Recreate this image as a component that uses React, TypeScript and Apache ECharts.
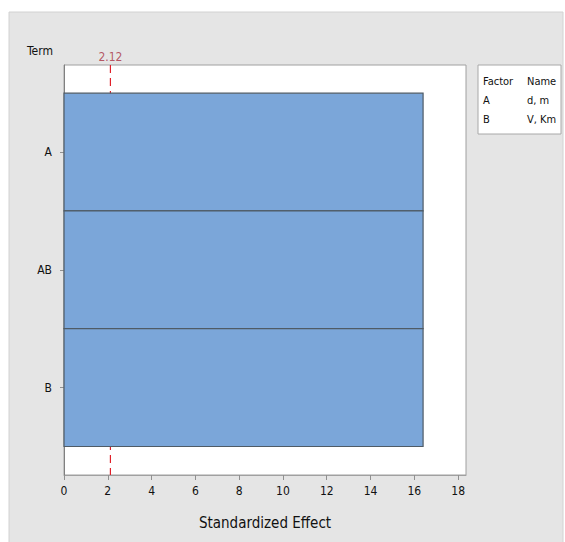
import React, { useEffect, useRef } from "react";
import * as echarts from "echarts";

const terms = ["A", "AB", "B"];
const effects = [16.4, 16.4, 16.4];
const refLine = 2.12;
const xTicks = [0, 2, 4, 6, 8, 10, 12, 14, 16, 18];
const factorRows = [
  ["A", "d, m"],
  ["B", "V, Km"],
];

const FONT = "'Liberation Sans Narrow', 'DejaVu Sans Condensed', sans-serif";

export default function App() {
  const ref = useRef<HTMLDivElement>(null);
  useEffect(() => {
    if (!ref.current) return;
    const chart = echarts.init(ref.current, undefined, { renderer: "svg" });
    const barData = effects.map((v, i) => [v, i + 1]);
    const legendTexts: any[] = [
      { type: "text", x: 483, y: 76, style: { text: "Factor", font: `11px ${FONT}`, fill: "#111" } },
      { type: "text", x: 527, y: 76, style: { text: "Name", font: `11px ${FONT}`, fill: "#111" } },
    ];
    factorRows.forEach((r, i) => {
      legendTexts.push({ type: "text", x: 483, y: 95 + i * 19, style: { text: r[0], font: `11px ${FONT}`, fill: "#111" } });
      legendTexts.push({ type: "text", x: 527, y: 95 + i * 19, style: { text: r[1], font: `11px ${FONT}`, fill: "#111" } });
    });
    chart.setOption({
      animation: false,
      backgroundColor: "#ffffff",
      textStyle: { fontFamily: FONT },
      graphic: [
        {
          type: "rect",
          z: -10,
          shape: { x: 9, y: 12, width: 554, height: 540 },
          style: { fill: "#e5e5e5", stroke: "#d2d2d2", lineWidth: 1 },
        },
        {
          type: "text",
          x: 27,
          y: 45,
          style: { text: "Term", font: `12px ${FONT}`, fill: "#111" },
        },
        {
          type: "rect",
          shape: { x: 478, y: 65, width: 83, height: 69 },
          style: { fill: "#ffffff", stroke: "#a8a8a8", lineWidth: 1 },
        },
        ...legendTexts,
      ],
      grid: {
        left: 64,
        top: 65,
        width: 402,
        height: 410,
        show: true,
        backgroundColor: "#ffffff",
        borderColor: "#a0a0a0",
        borderWidth: 1,
      },
      xAxis: {
        type: "value",
        min: 0,
        max: 18.36,
        interval: 2,
        splitLine: { show: false },
        axisLine: { show: true, lineStyle: { color: "#a0a0a0" } },
        axisTick: { show: true, length: 5, lineStyle: { color: "#909090" }, customValues: xTicks },
        axisLabel: { color: "#111", fontSize: 12, margin: 10, customValues: xTicks, formatter: (v: number) => String(v) },
        name: "Standardized Effect",
        nameLocation: "middle",
        nameGap: 40,
        nameTextStyle: { fontSize: 15, color: "#111", fontFamily: FONT },
      },
      yAxis: {
        type: "value",
        inverse: true,
        min: 0.261,
        max: 3.742,
        splitLine: { show: false },
        axisLine: { show: true, lineStyle: { color: "#808080" } },
        axisTick: { show: true, length: 4, lineStyle: { color: "#909090" }, customValues: [1, 2, 3] },
        axisLabel: {
          color: "#111",
          fontSize: 12,
          margin: 12,
          customValues: [1, 2, 3],
          formatter: (v: number) => terms[Math.round(v) - 1] ?? "",
        },
      },
      series: [
        {
          type: "line",
          data: [
            [refLine, 0.261],
            [refLine, 3.742],
          ],
          symbol: "none",
          lineStyle: { color: "#e0202a", type: [8, 5], width: 1.2 },
          z: 1,
          label: { show: false },
        },
        {
          type: "custom",
          data: barData,
          encode: { x: 0, y: 1 },
          renderItem: (params: any, api: any) => {
            const v = api.value(0);
            const c = api.value(1);
            const p0 = api.coord([0, c - 0.5]);
            const p1 = api.coord([v, c + 0.5]);
            return {
              type: "rect",
              shape: { x: p0[0], y: p0[1], width: p1[0] - p0[0], height: p1[1] - p0[1] },
              style: { fill: "#7ba6d9", stroke: "#4f5b66", lineWidth: 1.2 },
            };
          },
          z: 2,
        },
        {
          type: "scatter",
          data: [[refLine, 0.261]],
          symbolSize: 0,
          label: {
            show: true,
            position: "top",
            distance: 2,
            formatter: String(refLine),
            color: "#a83040",
            fontSize: 12,
            fontFamily: FONT,
          },
          z: 4,
        },
      ],
    });
    return () => chart.dispose();
  }, []);
  return (
    <div
      ref={ref}
      style={{ position: "fixed", left: 0, top: 0, width: 565, height: 542 }}
    />
  );
}
